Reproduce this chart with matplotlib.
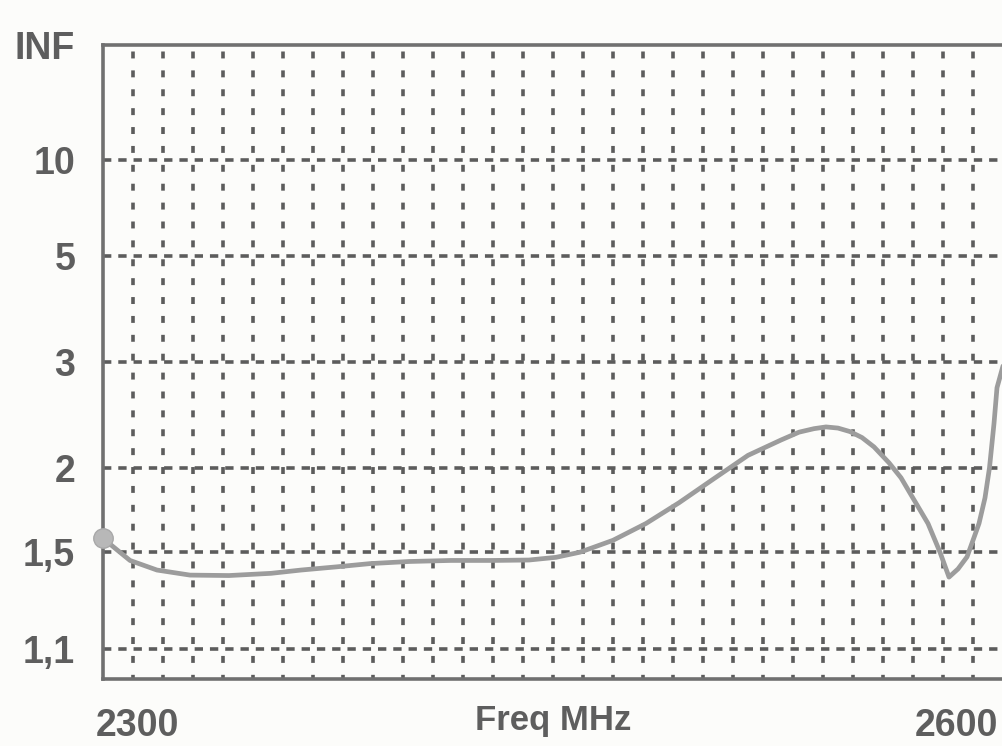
import numpy as np
import matplotlib
matplotlib.use("Agg")
import matplotlib.pyplot as plt
from matplotlib.transforms import ScaledTranslation

# ---- data ----
freq_mhz = [2300, 2309, 2318, 2329, 2342, 2356, 2366, 2378, 2389, 2402, 2416, 2430, 2442,
            2451, 2459, 2470, 2481, 2492, 2503, 2515, 2526, 2532, 2537, 2541, 2545,
            2549, 2553, 2557, 2562, 2566, 2569, 2575, 2579, 2582, 2585, 2588, 2590,
            2592, 2594, 2595.5, 2597, 2598, 2600]
vswr = [1.57, 1.46, 1.415, 1.392, 1.39, 1.40, 1.415, 1.43, 1.445, 1.455, 1.46, 1.46, 1.462,
        1.475, 1.50, 1.56, 1.65, 1.77, 1.915, 2.09, 2.21, 2.275, 2.305, 2.32, 2.31,
        2.28, 2.23, 2.155, 2.035, 1.93, 1.83, 1.65, 1.50, 1.383, 1.42, 1.477, 1.56,
        1.65, 1.80, 2.0, 2.35, 2.70, 2.95]

ytick_vals = [1.1, 1.5, 2, 3, 5, 10, 1e6]
ytick_labels = ["1,1", "1,5", "2", "3", "5", "10", "INF"]
grid_vswr = [1.1, 1.5, 2, 3, 5, 10]
x_start, x_end = 2300, 2600
x_grid_step = 10
xlabel_text = "Freq MHz"

# ---- style ----
plt.rcParams['font.family'] = ['Liberation Sans', 'DejaVu Sans']
plt.rcParams['lines.scale_dashes'] = False
bg = '#fcfcfa'
grid_col = '#5c5c5c'
text_col = '#5e5e5e'
curve_col = '#9c9c9c'

fig = plt.figure(figsize=(10.02, 7.46), dpi=100, facecolor=bg)
ax = fig.add_axes([103/1002, 1 - 679/746, 900/1002, (679 - 45)/746], facecolor=bg)


def fwd(s):
    s = np.asarray(s, dtype=float)
    return (s - 1.0) / (s + 1.0)


def inv(g):
    g = np.clip(np.asarray(g, dtype=float), -0.999999, 0.999999)
    return (1.0 + g) / (1.0 - g)


ax.set_yscale('function', functions=(fwd, inv))
ax.set_ylim(1.0, 1e6)
ax.set_xlim(x_start, x_end)

# grid lines
for f in np.arange(x_start + x_grid_step, x_end, x_grid_step):
    ax.axvline(f, color=grid_col, lw=2.6, linestyle=(2, (5.0, 8.6)), zorder=1)
for v in grid_vswr:
    ax.axhline(v, color=grid_col, lw=2.6, linestyle=(0, (6, 5)), zorder=1)

# curve
ax.plot(freq_mhz, vswr, color=curve_col, lw=3.4, zorder=3, solid_capstyle='round',
        solid_joinstyle='round')
ax.plot([freq_mhz[0]], [vswr[0]], 'o', ms=14, color='#b8b8b8', mec='#a8a8a8', zorder=4,
        clip_on=False)

# axes styling
for side in ['left', 'bottom', 'top']:
    ax.spines[side].set_color('#707070')
    ax.spines[side].set_linewidth(2.6)
ax.spines['right'].set_visible(False)

ax.set_yticks(ytick_vals)
ax.set_yticklabels(ytick_labels)
ax.tick_params(axis='y', length=0, pad=20, labelsize=27, labelcolor=text_col)
for lab in ax.get_yticklabels():
    lab.set_fontweight('bold')
ax.minorticks_off()

ax.set_xticks([x_start, x_end])
ax.set_xticklabels([str(x_start), str(x_end)])
ax.tick_params(axis='x', length=0, pad=21, labelsize=27, labelcolor=text_col)
xl = ax.get_xticklabels()
for lab in xl:
    lab.set_fontweight('bold')
xl[0].set_horizontalalignment('left')
xl[0].set_transform(xl[0].get_transform() + ScaledTranslation(-0.07, 0, fig.dpi_scale_trans))
xl[1].set_horizontalalignment('right')
xl[1].set_transform(xl[1].get_transform() + ScaledTranslation(-0.05, 0, fig.dpi_scale_trans))
ax.set_xlabel(xlabel_text, fontsize=25, fontweight='bold', color=text_col, labelpad=-29)

fig.savefig('out.png', dpi=100, facecolor=bg)
